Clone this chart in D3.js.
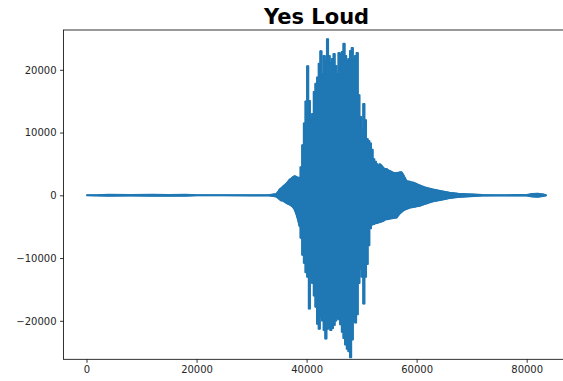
<!DOCTYPE html>
<html>
<head>
<meta charset="utf-8">
<script src="https://cdn.jsdelivr.net/npm/d3@7"></script>
<style>
  html, body { margin: 0; padding: 0; background: #fff; }
  svg { display: block; }
</style>
</head>
<body>
<svg id="chart" width="563" height="381"></svg>
<script>
// Waveform of the recording, stored as a per-column peak envelope:
// for each sample position, the highest and lowest amplitude in that column.
const sampleIdx = [
  0, 1800, 4000, 8000, 12000, 15000, 18000, 20000, 25000, 30000, 33000,
  34500, 34800, 35100, 35400, 35700, 36000, 36300, 36600, 36900, 37200,
  37500, 37800, 38100, 38400, 38700, 39000, 39300, 39600, 39900, 40200,
  40500, 40800, 41100, 41400, 41700, 42000, 42300, 42600, 42900, 43200,
  43500, 43800, 44100, 44400, 44700, 45000, 45300, 45600, 45900, 46200,
  46500, 46800, 47100, 47400, 47700, 48000, 48300, 48600, 48900, 49200,
  49500, 49800, 50100, 50400, 50700, 51000, 51300, 51600, 51900, 52200,
  52500, 52800, 53100, 53400, 53700, 54000, 54300, 54600, 54900, 55200,
  55500, 55800, 56100, 56400, 56700, 57000, 57300, 57600, 57900, 58200,
  58500, 58800, 59100, 59400, 59700, 60000, 60300, 60600, 60900, 61200,
  61500, 61800, 62100,
  63000, 64500, 66000, 67500, 69000, 70500, 72000, 74000, 76000, 78000,
  80000, 81000, 82000, 83000, 83600
];
const ampHigh = [
  40, 60, 110, 80, 120, 100, 110, 50, 40, 60, 50,
  239, 600, 1000, 1200, 1450, 1650, 1900, 2200, 2550, 2700,
  2950, 3100, 3000, 2850, 2850, 4500, 8000, 11500, 15000, 20600,
  15059, 12000, 13000, 16500, 17800, 18800, 21000, 23000, 19362, 22230,
  21434, 24892, 22230, 21115, 21752, 22549, 20637, 19362, 22708, 22549,
  22868, 24191, 22230, 21434, 21752, 23027, 23505, 21752, 22230, 22708,
  16000, 12500, 10500, 14581, 12000, 9000, 8685, 8300, 7300, 5800,
  5400, 5000, 4700, 5000, 4700, 4380, 4220, 4220, 4000, 3900,
  3750, 3600, 3590, 3590, 3650, 3700, 3700, 3300, 2800, 2300,
  2250, 2200, 2100, 2070, 1950, 1850, 1700, 1625, 1500, 1400,
  1300, 1240, 1150,
  950, 700, 430, 300, 220, 150, 90, 60, 60, 70,
  80, 250, 300, 180, 40
];
const ampLow = [
  -40, -60, -100, -80, -110, -110, -100, -50, -50, -60, -50,
  -239, -450, -700, -880, -880, -1100, -1250, -1400, -1500, -1700,
  -1900, -2300, -3000, -3900, -5000, -6800, -9500, -10800, -12300, -13000,
  -18087, -13000, -14000, -16000, -17800, -20500, -21300, -19300, -20000, -21500,
  -22868, -21300, -21100, -21500, -21200, -20700, -20000, -19600, -19800, -20600,
  -21800, -22800, -23800, -24500, -24900, -25848, -23000, -20000, -20300, -19000,
  -14000, -11800, -13000, -17290, -13000, -11000, -8000, -5300, -4700, -4600,
  -4500, -4450, -4350, -4300, -4200, -4100, -3900, -3850, -3800, -3750,
  -3700, -3650, -3600, -3580, -3200, -2900, -2700, -2450, -2300, -2200,
  -2100, -2000, -1950, -1900, -1850, -1800, -1750, -1700, -1600, -1500,
  -1400, -1350, -1250,
  -1000, -750, -480, -310, -230, -150, -90, -60, -60, -70,
  -80, -220, -280, -150, -40
];

// Sample range of the loud burst, where each column is its own spike
const burstStart = 38700, burstEnd = 53400;

const xTicks = [0, 20000, 40000, 60000, 80000];
const yTicks = [-20000, -10000, 0, 10000, 20000];
const chartTitle = "Yes Loud";

const svg = d3.select("#chart");
const plot = { left: 63.5, right: 569.7, top: 30, bottom: 359.3 };

// Axis limits padded 5% past the data, as pyplot does by default
const x = d3.scaleLinear().domain([-4182, 87818]).range([plot.left, plot.right]);
const y = d3.scaleLinear().domain([-26135, 26343]).range([plot.bottom, plot.top]);

const rows = sampleIdx.map((s, i) => ({ s, hi: ampHigh[i], lo: ampLow[i] }));
const blue = "#1f77b4";

svg.append("defs").append("clipPath").attr("id", "plot-clip")
  .append("rect")
  .attr("x", plot.left).attr("y", plot.top)
  .attr("width", plot.right - plot.left).attr("height", plot.bottom - plot.top);

const trace = svg.append("g").attr("clip-path", "url(#plot-clip)");

// Quiet parts follow a smooth envelope; the burst is drawn stepped
const segments = [
  { rows: rows.filter(d => d.s <= burstStart), curve: d3.curveLinear },
  { rows: rows.filter(d => d.s >= burstStart && d.s <= burstEnd), curve: d3.curveStep },
  { rows: rows.filter(d => d.s >= burstEnd), curve: d3.curveLinear }
];

// Fills first (with a thin matching stroke so neighbouring pieces join
// without a seam), then the envelope outlines at the trace's line width
segments.forEach(seg => {
  trace.append("path")
    .datum(seg.rows)
    .attr("fill", blue)
    .attr("stroke", blue)
    .attr("stroke-width", 1)
    .attr("stroke-linejoin", "round")
    .attr("d", d3.area().curve(seg.curve)
      .x(d => x(d.s)).y0(d => y(d.lo)).y1(d => y(d.hi)));
});
segments.forEach(seg => {
  ["hi", "lo"].forEach(k => {
    trace.append("path")
      .datum(seg.rows)
      .attr("fill", "none")
      .attr("stroke", blue)
      .attr("stroke-width", 1.5)
      .attr("stroke-linejoin", "round")
      .attr("d", d3.line().curve(seg.curve).x(d => x(d.s)).y(d => y(d[k])));
  });
});

// Axes
const xAxis = d3.axisBottom(x).tickValues(xTicks).tickSize(3.5).tickPadding(3.5)
  .tickFormat(d => String(d));
const yAxis = d3.axisLeft(y).tickValues(yTicks).tickSize(3.5).tickPadding(3.5)
  .tickFormat(d => (d < 0 ? "\u2212" + Math.abs(d) : String(d)));

const gx = svg.append("g").attr("transform", `translate(0,${plot.bottom})`).call(xAxis);
const gy = svg.append("g").attr("transform", `translate(${plot.left},0)`).call(yAxis);
[gx, gy].forEach(g => {
  g.select(".domain").remove();
  g.selectAll(".tick line").attr("stroke", "#000").attr("stroke-width", 0.8);
  g.selectAll(".tick text")
    .attr("font-size", 10)
    .attr("fill", "#262626")
    .style("font-family", "'DejaVu Sans', sans-serif");
});

// Frame
svg.append("rect")
  .attr("x", plot.left).attr("y", plot.top)
  .attr("width", plot.right - plot.left).attr("height", plot.bottom - plot.top)
  .attr("fill", "none").attr("stroke", "#000").attr("stroke-width", 0.8);

svg.append("text")
  .attr("x", (plot.left + plot.right) / 2)
  .attr("y", 24)
  .attr("text-anchor", "middle")
  .style("font-family", "'DejaVu Sans', sans-serif")
  .style("font-size", "21px")
  .style("font-weight", "bold")
  .style("fill", "#000")
  .text(chartTitle);
</script>
</body>
</html>
